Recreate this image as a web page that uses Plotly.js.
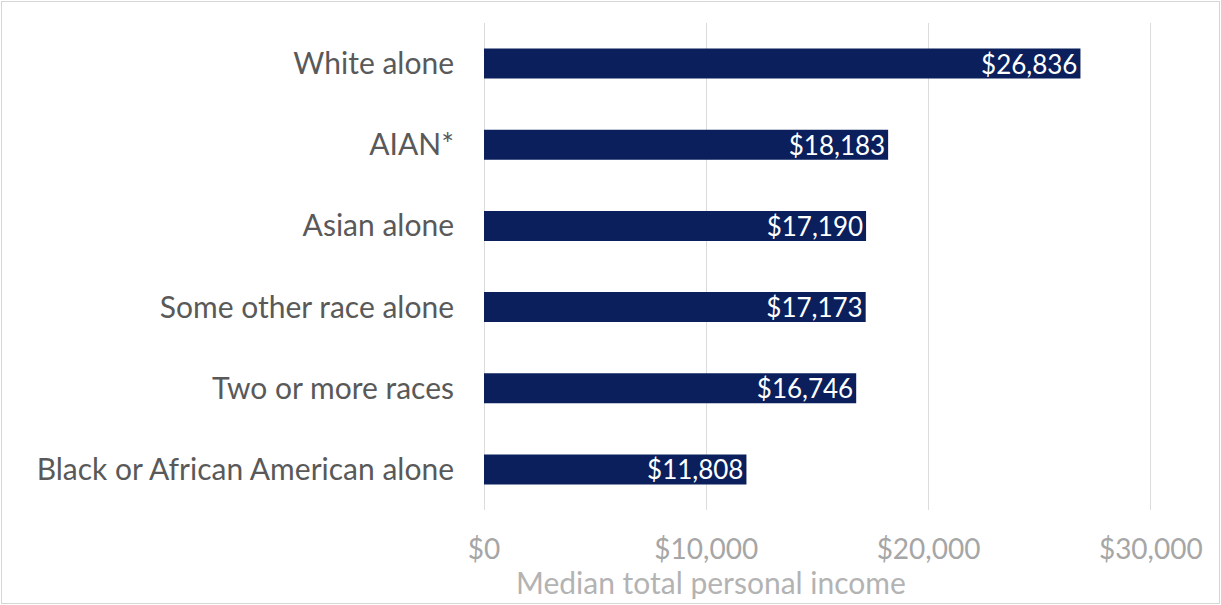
<!DOCTYPE html>
<html>
<head>
<meta charset="utf-8">
<script src="https://cdn.plot.ly/plotly-3.0.1.min.js"></script>
<style>
html,body{margin:0;padding:0;background:#fff;}
#wrap{position:absolute;left:1px;top:1px;width:1217px;height:601px;border:1px solid #d6d6d6;}
#chart{position:absolute;left:-2px;top:-2px;width:1221px;height:605px;}
</style>
</head>
<body>
<div id="wrap"><div id="chart"></div></div>
<script>
const categories = ["Black or African American alone","Two or more races","Some other race alone","Asian alone","AIAN*","White alone"];
const incomes = [11808, 16746, 17173, 17190, 18183, 26836];
const valueLabels = ["$11,808","$16,746","$17,173","$17,190","$18,183","$26,836"];
const tickVals = [0, 10000, 20000, 30000];
const tickText = ["$0","$10,000","$20,000","$30,000"];
const axisTitle = "Median total personal income";

const trace = {
  type: "bar",
  orientation: "h",
  y: categories,
  x: incomes,
  text: valueLabels,
  textposition: "inside",
  insidetextanchor: "end",
  constraintext: "none",
  textangle: 0,
  textfont: {family: "Lato, sans-serif", size: 26, color: "#ffffff"},
  marker: {color: "#0a1f5c"},
  hoverinfo: "none",
  cliponaxis: false
};

const layout = {
  width: 1221, height: 605,
  margin: {l: 484, r: 68, t: 23, b: 95},
  paper_bgcolor: "rgba(0,0,0,0)",
  plot_bgcolor: "#ffffff",
  bargap: 0.63,
  showlegend: false,
  font: {family: "Lato, sans-serif"},
  xaxis: {
    range: [0, 30100],
    tickvals: tickVals,
    ticktext: tickText,
    showgrid: true,
    gridcolor: "#dcdcdc",
    gridwidth: 1,
    zeroline: true,
    zerolinecolor: "#dcdcdc",
    zerolinewidth: 1,
    showline: false,
    ticks: "",
    ticklabelstandoff: 20,
    tickfont: {family: "Lato, sans-serif", size: 28, color: "#a6a6a6"}
  },
  yaxis: {
    showgrid: false,
    zeroline: false,
    showline: false,
    ticks: "",
    ticklabelstandoff: 29,
    tickfont: {family: "Lato, sans-serif", size: 30, color: "#595959"}
  },
  annotations: [{
    text: axisTitle,
    xref: "paper", yref: "paper",
    x: (711 - 484) / 669, y: -0.147,
    xanchor: "center", yanchor: "middle",
    showarrow: false,
    font: {family: "Lato, sans-serif", size: 30, color: "#b3b3b3"}
  }]
};

Plotly.newPlot("chart", [trace], layout, {displayModeBar: false, staticPlot: true});
</script>
</body>
</html>
